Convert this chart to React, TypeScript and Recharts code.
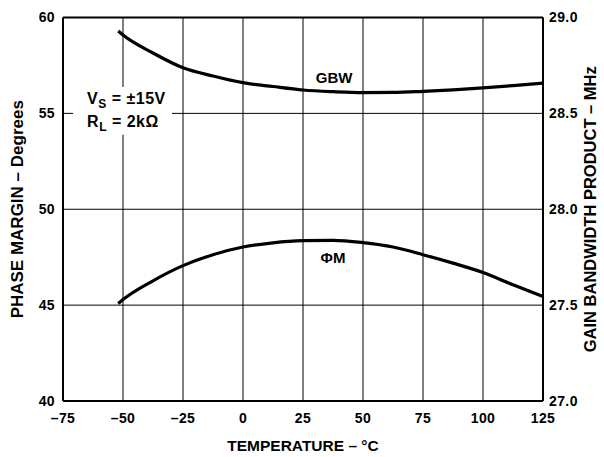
import React from 'react';
import {
  ComposedChart,
  Line,
  XAxis,
  YAxis,
  CartesianGrid,
  ReferenceLine,
  ReferenceArea,
  ReferenceDot,
} from 'recharts';

// Temperature (°C)
const temperatureC = [-52, -50, -37.5, -25, -12.5, 0, 12.5, 25, 37.5, 50, 62.5, 75, 87.5, 100, 112.5, 125];
// Phase margin (Degrees) – left axis
const phaseMargin = [45.08, 45.29, 46.27, 47.06, 47.63, 48.03, 48.25, 48.36, 48.38, 48.26, 48.03, 47.63, 47.19, 46.7, 46.06, 45.45];
// Gain bandwidth product (MHz) – right axis
const gainBandwidth = [28.93, 28.909, 28.815, 28.738, 28.695, 28.66, 28.64, 28.622, 28.613, 28.608, 28.609, 28.615, 28.623, 28.633, 28.645, 28.658];

const xTicks = [-75, -50, -25, 0, 25, 50, 75, 100, 125];
const leftTicks = [40, 45, 50, 55, 60];
const rightTicks = [27.0, 27.5, 28.0, 28.5, 29.0];

const rows = temperatureC.map((t, i) => ({ t, pm: phaseMargin[i], gbw: gainBandwidth[i] }));

const FONT = '"Liberation Sans", Arial, Helvetica, sans-serif';
const tickStyle = { fontFamily: FONT, fontWeight: 700, fontSize: 14, fill: '#000', letterSpacing: 0.4 };

const fmtX = (v: number) => (v < 0 ? '\u2013' + Math.abs(v) : String(v));

const LeftTitle = (props: any) => {
  const vb = props.viewBox || { x: 0, y: 17.5, width: 63, height: 383.5 };
  const cx = vb.x + 17;
  const cy = vb.y + vb.height / 2;
  return (
    <text x={cx} y={cy} transform={`rotate(-90, ${cx}, ${cy})`} textAnchor="middle" dominantBaseline="central"
      style={{ fontFamily: FONT, fontWeight: 700, fontSize: 17 }} fill="#000">
      PHASE MARGIN – Degrees
    </text>
  );
};

const RightTitle = (props: any) => {
  const vb = props.viewBox || { x: 543, y: 17.5, width: 61, height: 383.5 };
  const cx = vb.x + 47;
  const cy = vb.y + vb.height / 2;
  return (
    <text x={cx} y={cy} transform={`rotate(-90, ${cx}, ${cy})`} textAnchor="middle" dominantBaseline="central"
      style={{ fontFamily: FONT, fontWeight: 700, fontSize: 16.5 }} fill="#000">
      GAIN BANDWIDTH PRODUCT – MHz
    </text>
  );
};

const BottomTitle = (props: any) => {
  const vb = props.viewBox || { x: 63, y: 401, width: 480, height: 56 };
  return (
    <text x={vb.x + vb.width / 2} y={vb.y + 44} textAnchor="middle" dominantBaseline="central"
      style={{ fontFamily: FONT, fontWeight: 700, fontSize: 15.5 }} fill="#000">
      TEMPERATURE – °C
    </text>
  );
};

const Conditions = (props: any) => {
  const vb = props.viewBox || { x: 73, y: 87, width: 99, height: 48 };
  const x = vb.x + 14;
  const st = { fontFamily: FONT, fontWeight: 700, fontSize: 16, letterSpacing: 0.5 };
  return (
    <g>
      <text x={x} y={vb.y + 17.5} style={st} fill="#000">
        V<tspan dy={4} fontSize={12}>S</tspan><tspan dy={-4}> = ±15V</tspan>
      </text>
      <text x={x} y={vb.y + 40.5} style={st} fill="#000">
        R<tspan dy={4} fontSize={12}>L</tspan><tspan dy={-4}> = 2kΩ</tspan>
      </text>
    </g>
  );
};

export default function App() {
  return (
    <div style={{ width: 604, height: 457, background: '#fff' }}>
      <style>{'body{margin:0;background:#fff}'}</style>
      <ComposedChart width={604} height={457} data={rows} margin={{ top: 17.5, right: 0, bottom: 0, left: 0 }}>
        <CartesianGrid yAxisId="left" stroke="#000" strokeWidth={1} />
        <XAxis
          type="number"
          dataKey="t"
          domain={[-75, 125]}
          ticks={xTicks}
          tickFormatter={fmtX}
          height={56}
          tickSize={0}
          tickMargin={12}
          tickLine={false}
          axisLine={{ stroke: '#000', strokeWidth: 2 }}
          tick={tickStyle}
          interval={0}
          label={<BottomTitle />}
        />
        <YAxis
          yAxisId="left"
          domain={[40, 60]}
          ticks={leftTicks}
          width={63}
          tickSize={0}
          tickMargin={8}
          tickLine={false}
          axisLine={{ stroke: '#000', strokeWidth: 2 }}
          tick={tickStyle}
          interval={0}
          label={<LeftTitle />}
        />
        <YAxis
          yAxisId="right"
          orientation="right"
          domain={[27, 29]}
          ticks={rightTicks}
          tickFormatter={(v: number) => v.toFixed(1)}
          width={61}
          tickSize={0}
          tickMargin={6}
          tickLine={false}
          axisLine={{ stroke: '#000', strokeWidth: 2 }}
          tick={tickStyle}
          interval={0}
          label={<RightTitle />}
        />
        <ReferenceLine yAxisId="left" y={60} stroke="#000" strokeWidth={2} />
        <ReferenceArea
          yAxisId="left"
          x1={-70.8}
          x2={-29.6}
          y1={53.88}
          y2={56.38}
          fill="#fff"
          fillOpacity={1}
          stroke="none"
          label={<Conditions />}
        />
        <Line yAxisId="left" type="monotone" dataKey="pm" stroke="#000" strokeWidth={3.2} dot={false} isAnimationActive={false} />
        <Line yAxisId="right" type="monotone" dataKey="gbw" stroke="#000" strokeWidth={3.2} dot={false} isAnimationActive={false} />
        <ReferenceDot yAxisId="right" x={38} y={28.686} r={0} fill="none" stroke="none"
          label={{ value: 'GBW', position: 'center', style: { fontFamily: FONT, fontWeight: 700, fontSize: 15, fill: '#000' } }} />
        <ReferenceDot yAxisId="left" x={37.5} y={47.46} r={0} fill="none" stroke="none"
          label={{ value: 'ΦM', position: 'center', style: { fontFamily: FONT, fontWeight: 700, fontSize: 15, fill: '#000' } }} />
      </ComposedChart>
    </div>
  );
}
